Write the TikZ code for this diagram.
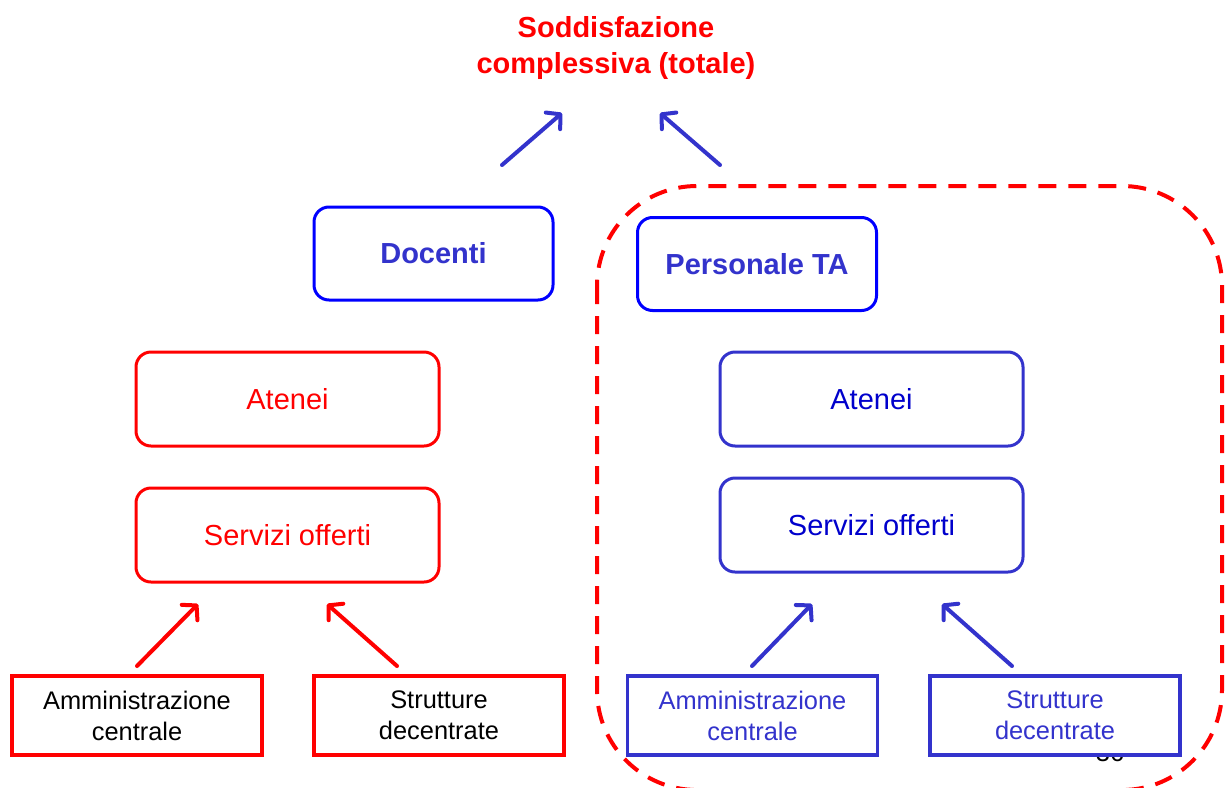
\documentclass[tikz,border=0pt]{standalone}
\usepackage{fontspec}
\setmainfont{Liberation Sans}
\usetikzlibrary{arrows.meta}
\definecolor{slideblue}{RGB}{51,51,204}
\definecolor{deepblue}{RGB}{0,0,204}
\definecolor{pureblue}{RGB}{0,0,255}

\begin{document}
\begin{tikzpicture}[x=0.5pt,y=-0.5pt,
    roundbox/.style={draw, fill=white, line width=1.5pt, rounded corners=7.5pt,
        minimum width=151.5pt, minimum height=47pt, font=\fontsize{14.5}{17}\selectfont},
    headbox/.style={roundbox, draw=pureblue, text=slideblue, minimum width=119.5pt,
        minimum height=46.5pt, font=\fontsize{14.5}{17}\selectfont\bfseries},
    unitbox/.style={draw, fill=white, line width=1.75pt, align=center,
        minimum width=125pt, minimum height=39.5pt, font=\fontsize{12.7}{15.5}\selectfont},
    arr/.style={line width=2pt, line cap=round,
        -{Straight Barb[length=5pt, width=11pt, line cap=round, line join=round]}}]

        % Picture frame
        \useasboundingbox (0,0) rectangle (1229,787);

        % Title
        \node[red, align=center, font=\fontsize{14.5}{18}\selectfont\bfseries] (title) at (616,48)
            {Soddisfazione\\complessiva (totale)};

        % Group of the technical staff
        \draw[red, line width=2pt, dash pattern=on 9pt off 6pt, rounded corners=50pt]
            (597,186) rectangle (1222,790);

        % Page number (mostly hidden behind the last box)
        \node[anchor=base, inner sep=0pt, font=\fontsize{12.7}{15}\selectfont] (pagenum) at (1110,761) {36};

        % --- Left branch: Docenti ---
        \node[headbox] (docenti) at (433.5,253.5) {Docenti};
        \node[roundbox, draw=red, text=red] (ateneiL) at (287.5,399) {Atenei};
        \node[roundbox, draw=red, text=red] (serviziL) at (287.5,535) {Servizi offerti};
        \node[unitbox, draw=red] (ammL) at (137,715.5) {Amministrazione\\centrale};
        \node[unitbox, draw=red] (strL) at (439,715.5) {Strutture\\decentrate};

        % --- Right branch: Personale TA ---
        \node[headbox] (personale) at (757,264) {Personale TA};
        \node[roundbox, draw=slideblue, text=deepblue] (ateneiR) at (871.5,399) {Atenei};
        \node[roundbox, draw=slideblue, text=deepblue] (serviziR) at (871.5,525) {Servizi offerti};
        \node[unitbox, draw=slideblue, text=slideblue] (ammR) at (752.5,715.5) {Amministrazione\\centrale};
        \node[unitbox, draw=slideblue, text=slideblue] (strR) at (1055,715.5) {Strutture\\decentrate};

        % Arrow ends
        \coordinate (docOut) at (502,165);
        \coordinate (docIn) at (562,113);
        \coordinate (perOut) at (720,165);
        \coordinate (perIn) at (660,113);
        \coordinate (ammLOut) at (137,666);
        \coordinate (ammLIn) at (198,604);
        \coordinate (strLOut) at (397,666);
        \coordinate (strLIn) at (327,604);
        \coordinate (ammROut) at (752,666);
        \coordinate (ammRIn) at (812,604);
        \coordinate (strROut) at (1012,666);
        \coordinate (strRIn) at (942,604);

        % Arrows
        \draw[arr, slideblue] (docOut) -- (docIn);
        \draw[arr, slideblue] (perOut) -- (perIn);
        \draw[arr, red] (ammLOut) -- (ammLIn);
        \draw[arr, red] (strLOut) -- (strLIn);
        \draw[arr, slideblue] (ammROut) -- (ammRIn);
        \draw[arr, slideblue] (strROut) -- (strRIn);

    \end{tikzpicture}
\end{document}
